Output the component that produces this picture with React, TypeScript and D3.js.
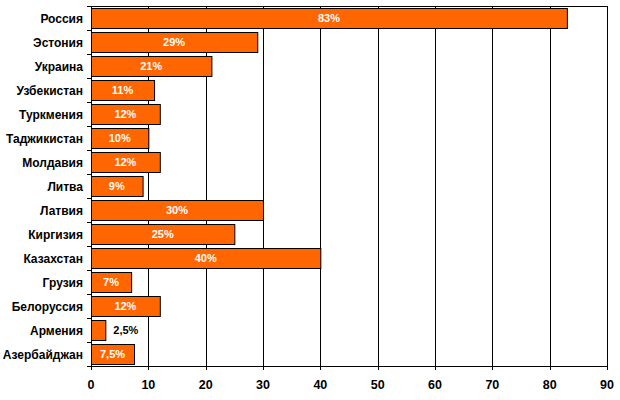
import React from "react";
import * as d3 from "d3";

const categories = ["Россия","Эстония","Украина","Узбекистан","Туркмения","Таджикистан","Молдавия","Литва","Латвия","Киргизия","Казахстан","Грузия","Белоруссия","Армения","Азербайджан"];
const values = [83,29,21,11,12,10,12,9,30,25,40,7,12,2.5,7.5];
const labels = ["83%","29%","21%","11%","12%","10%","12%","9%","30%","25%","40%","7%","12%","2,5%","7,5%"];
const xTicks = [0,10,20,30,40,50,60,70,80,90];

export default function App() {
  const W = 620, H = 400;
  const left = 91, right = 607, top = 6, bottom = 366;
  const x = d3.scaleLinear().domain([0, 90]).range([left, right]);
  const y = d3.scaleBand<string>().domain(categories).range([top, bottom]).paddingInner(4 / 24).paddingOuter(2 / 24);
  const band = (bottom - top) / categories.length;
  const font = "'Liberation Sans', Arial, sans-serif";
  return (
    <svg width={W} height={H} style={{ position: "absolute", left: 0, top: 0 }}>
      <rect x={0} y={0} width={W} height={H} fill="#fff" />
      <line x1={left} x2={right} y1={top + 0.5} y2={top + 0.5} stroke="#000" />
      {xTicks.map((t) => (
        <g key={t}>
          <line x1={Math.round(x(t)) + 0.5} x2={Math.round(x(t)) + 0.5} y1={top} y2={bottom + 4} stroke="#000" />
          <text x={x(t)} y={389} textAnchor="middle" fontFamily={font} fontWeight="bold" fontSize={12.5}>{t}</text>
        </g>
      ))}
      <line x1={left} x2={right} y1={bottom + 0.5} y2={bottom + 0.5} stroke="#000" />
      {d3.range(categories.length + 1).map((i) => (
        <line key={i} x1={left - 4} x2={left} y1={Math.round(top + i * band) + 0.5} y2={Math.round(top + i * band) + 0.5} stroke="#000" />
      ))}
      {categories.map((c, i) => {
        const y0 = y(c)!;
        const bw = y.bandwidth();
        const xe = x(values[i]);
        const inside = xe - left > 30;
        return (
          <g key={c}>
            <rect x={left + 0.5} y={Math.round(y0) + 0.5} width={xe - left} height={Math.round(bw)} fill="#FF6600" stroke="#000" strokeWidth={1} />
            <text x={83} y={y0 + bw / 2 + 4.5} textAnchor="end" fontFamily={font} fontWeight="bold" fontSize={12} fill="#000">{c}</text>
            <text x={inside ? (left + xe) / 2 : xe + 8} y={y0 + bw / 2 + 4} textAnchor={inside ? "middle" : "start"} fontFamily={font} fontWeight="bold" fontSize={11} fill={inside ? "#fff" : "#000"}>{labels[i]}</text>
          </g>
        );
      })}
    </svg>
  );
}
